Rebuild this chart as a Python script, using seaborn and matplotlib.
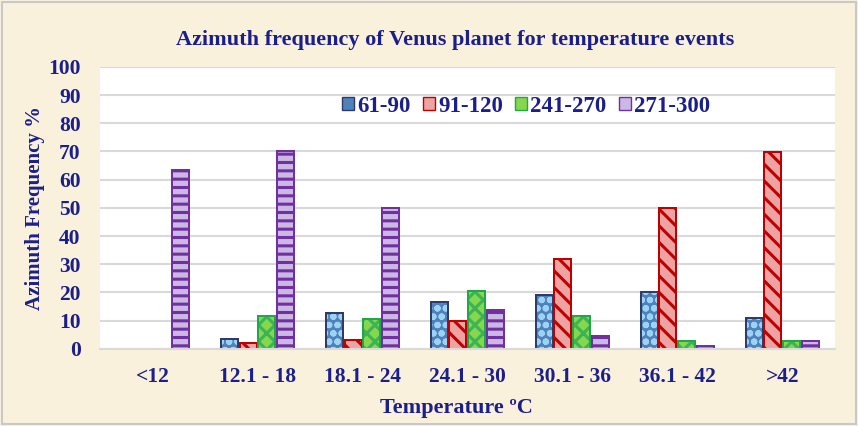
import numpy as np
import pandas as pd
import seaborn as sns
import matplotlib.pyplot as plt
from matplotlib.patches import Rectangle

# data
temps = ["<12", "12.1 - 18", "18.1 - 24", "24.1 - 30", "30.1 - 36", "36.1 - 42", ">42"]
az_61_90 = [0, 3.5, 12.7, 16.5, 19, 20.1, 10.8]
az_91_120 = [0, 2, 3.2, 10, 31.8, 49.8, 69.8]
az_241_270 = [0, 11.8, 10.5, 20.6, 11.7, 2.8, 2.8]
az_271_300 = [63.5, 70, 49.8, 13.8, 4.5, 0.9, 2.7]
series = ["61-90", "91-120", "241-270", "271-300"]

df = pd.DataFrame({
    "temp": temps * 4,
    "azimuth": np.repeat(series, len(temps)),
    "freq": az_61_90 + az_91_120 + az_241_270 + az_271_300,
})

navy = "#1b1f8a"
bg = "#faf1dc"
fills = ["#4f81bd", "#eea3a3", "#86d64e", "#cbb8e3"]
edges = ["#2d3b66", "#c00000", "#1fa845", "#7030a0"]
hatch_cols = ["#9dd3f2", "#c00000", "#3bb356", "#7030a0"]
hatches = ["oo", "\\\\", "xx", "--"]

sns.set_style("white")
plt.rcParams["font.family"] = ["Liberation Serif", "DejaVu Serif"]
plt.rcParams["font.weight"] = "bold"
plt.rcParams["hatch.linewidth"] = 2.2

fig = plt.figure(figsize=(8.58, 4.26), dpi=100, facecolor=bg)
ax = fig.add_axes([0.1166, 0.181, 0.8564, 0.662])
fig.patches.append(Rectangle((0.002, 0.004), 0.996, 0.992, transform=fig.transFigure,
                             fill=False, edgecolor="#c8c8c8", linewidth=1.5))

sns.barplot(data=df, x="temp", y="freq", hue="azimuth", hue_order=series,
            width=0.72, gap=0.1, ax=ax, legend=False)

# hatch colour differs from the border colour, so the hatch goes on a copy of each bar
handles = []
for cont, fc, ec, hc, h in zip(ax.containers, fills, edges, hatch_cols, hatches):
    for bar in cont:
        bar.set_facecolor(fc)
        bar.set_edgecolor(ec)
        bar.set_linewidth(1.4)
        over = Rectangle(bar.get_xy(), bar.get_width(), bar.get_height(), fill=False,
                         hatch=h, edgecolor=hc, linewidth=0, zorder=bar.get_zorder() + 0.1)
        ax.add_patch(over)
        edge = Rectangle(bar.get_xy(), bar.get_width(), bar.get_height(), fill=False,
                         edgecolor=ec, linewidth=1.4, zorder=bar.get_zorder() + 0.2)
        if bar.get_height() > 0:
            ax.add_patch(edge)
    handles.append(Rectangle((0, 0), 1, 1, facecolor=fc, edgecolor=ec, linewidth=1))

ax.set_ylim(0, 100)
ax.set_yticks(range(0, 101, 10))
ax.yaxis.grid(True, color="#d9d9d9", linewidth=1.5)
ax.set_axisbelow(True)
for s in ["top", "right", "left"]:
    ax.spines[s].set_visible(False)
ax.spines["bottom"].set_color("#d9d9d9")
ax.spines["bottom"].set_linewidth(1.5)
ax.tick_params(length=0, labelsize=15.5, labelcolor=navy)
ax.tick_params(axis="y", pad=14)
ax.tick_params(axis="x", pad=13)

ax.set_xlabel("Temperature ºC", fontsize=16, color=navy, fontweight="bold", labelpad=8)
ax.xaxis.label.set_x(0.485)
ax.set_ylabel("Azimuth Frequency %", fontsize=15, color=navy, fontweight="bold", labelpad=2)
fig.text(0.531, 0.905, "Azimuth frequency of Venus planet for temperature events",
         ha="center", va="center", fontsize=16, color=navy, fontweight="bold")

leg = ax.legend(handles, series, loc="upper center", bbox_to_anchor=(0.58, 0.97),
                ncol=4, frameon=False, fontsize=16.5, handlelength=0.5, handleheight=0.5,
                handletextpad=0.15, columnspacing=0.55)
for t in leg.get_texts():
    t.set_color(navy)

fig.savefig("out.png", dpi=100, facecolor=bg)
